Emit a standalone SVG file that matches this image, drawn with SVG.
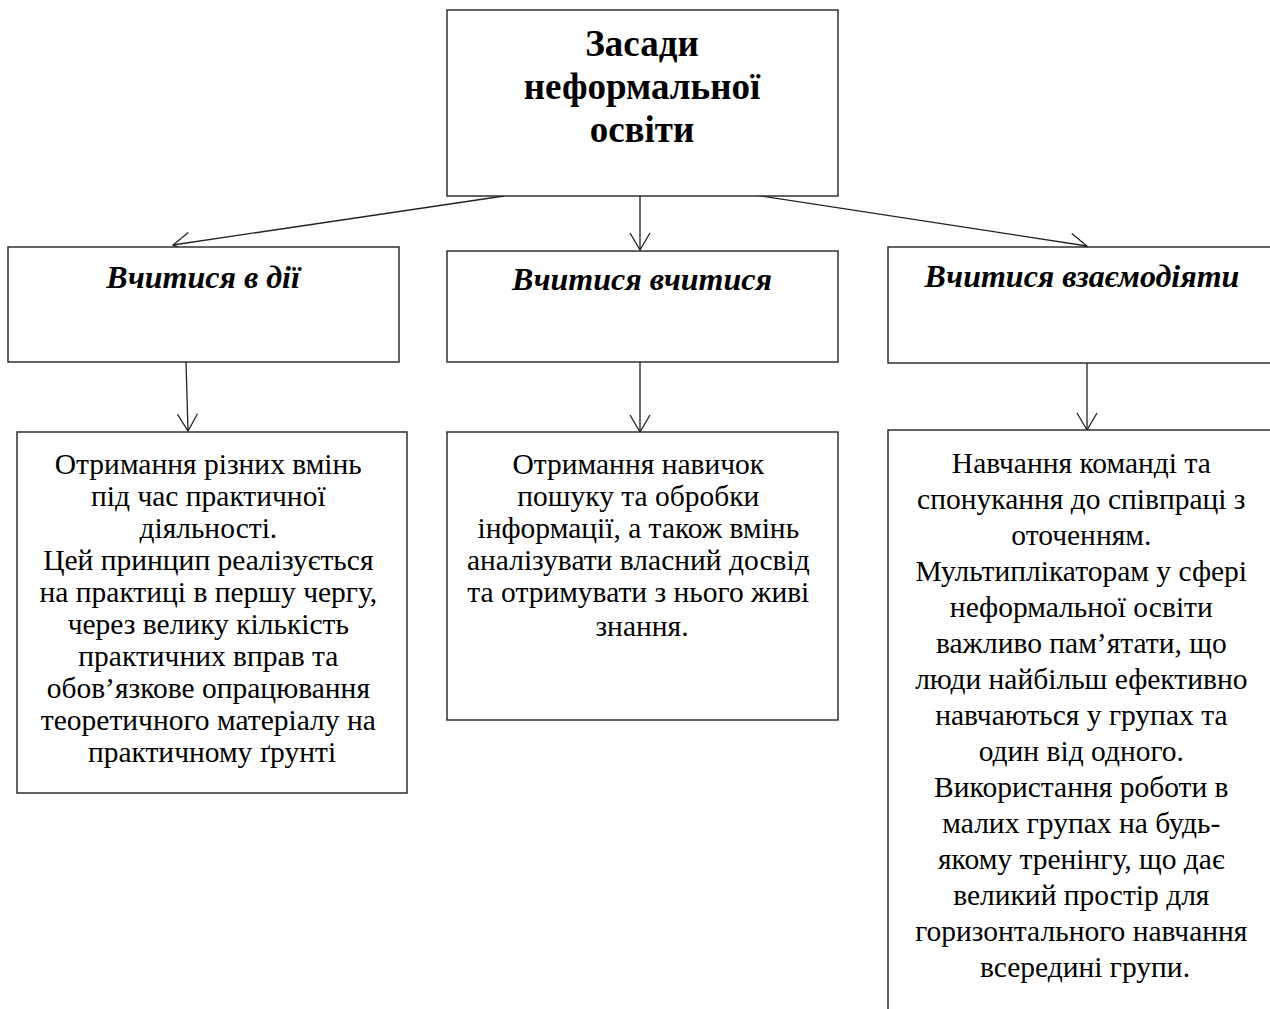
<svg xmlns="http://www.w3.org/2000/svg" width="1270" height="1009" viewBox="0 0 1270 1009">
<style>
.box{fill:#fff;stroke:#222;stroke-width:1.4}
.title{font-family:"Liberation Serif","Times New Roman",serif;font-weight:bold;font-size:37px;fill:#000;text-anchor:middle}
.head{font-family:"Liberation Serif","Times New Roman",serif;font-weight:bold;font-style:italic;font-size:32px;fill:#000;text-anchor:middle}
.body{font-family:"Liberation Serif","Times New Roman",serif;font-size:29.5px;fill:#000;text-anchor:middle}
.conn{stroke:#222;stroke-width:1.3;fill:none;marker-end:url(#arr)}
</style>
<defs>
<marker id="arr" markerUnits="userSpaceOnUse" markerWidth="22" markerHeight="24" refX="18" refY="11" orient="auto">
<path d="M1,1 L18,11 L1,21" fill="none" stroke="#222" stroke-width="1.3"/>
</marker>
</defs>
<rect width="1270" height="1009" fill="#fff"/>
<g id="connectors">
<line class="conn" x1="504" y1="196" x2="173" y2="245"/>
<line class="conn" x1="640" y1="196" x2="640" y2="250"/>
<line class="conn" x1="755" y1="195" x2="1087" y2="246"/>
<line class="conn" x1="186" y1="362" x2="188" y2="431"/>
<line class="conn" x1="640" y1="362" x2="640" y2="432"/>
<line class="conn" x1="1087" y1="363" x2="1087" y2="430"/>
</g>
<g id="root">
<rect class="box" x="447" y="10" width="391" height="186"/>
<text class="title" x="642" y="56">Засади</text>
<text class="title" x="642" y="99">неформальної</text>
<text class="title" x="642" y="142">освіти</text>
</g>
<g id="learn-doing">
<rect class="box" x="8" y="247" width="391" height="115"/>
<text class="head" x="203" y="288">Вчитися в дії</text>
</g>
<g id="learn-learning">
<rect class="box" x="447" y="251" width="391" height="111"/>
<text class="head" x="642" y="290">Вчитися вчитися</text>
</g>
<g id="learn-interact">
<rect class="box" x="888" y="247" width="400" height="116"/>
<text class="head" x="1082" y="287">Вчитися взаємодіяти</text>
</g>
<g id="desc-doing">
<rect class="box" x="17" y="432" width="390" height="361"/>
<text class="body" x="212">
<tspan x="212" y="474">Отримання різних вмінь</tspan>
<tspan x="212" y="506">під час практичної</tspan>
<tspan x="212" y="538">діяльності.</tspan>
<tspan x="212" y="570">Цей принцип реалізується</tspan>
<tspan x="212" y="602">на практиці в першу чергу,</tspan>
<tspan x="212" y="634">через велику кількість</tspan>
<tspan x="212" y="666">практичних вправ та</tspan>
<tspan x="212" y="698">обов’язкове опрацювання</tspan>
<tspan x="212" y="730">теоретичного матеріалу на</tspan>
<tspan x="212" y="762">практичному ґрунті</tspan>
</text>
</g>
<g id="desc-learning">
<rect class="box" x="447" y="432" width="391" height="288"/>
<text class="body" x="642">
<tspan x="642" y="474">Отримання навичок</tspan>
<tspan x="642" y="506">пошуку та обробки</tspan>
<tspan x="642" y="538">інформації, а також вмінь</tspan>
<tspan x="642" y="570">аналізувати власний досвід</tspan>
<tspan x="642" y="602">та отримувати з нього живі</tspan>
<tspan x="642" y="636">знання.</tspan>
</text>
</g>
<g id="desc-interact">
<rect class="box" x="888" y="430" width="400" height="700"/>
<text class="body" x="1085">
<tspan x="1085" y="473">Навчання  команді та</tspan>
<tspan x="1085" y="509">спонукання до співпраці з</tspan>
<tspan x="1085" y="545">оточенням.</tspan>
<tspan x="1085" y="581">Мультиплікаторам у сфері</tspan>
<tspan x="1085" y="617">неформальної освіти</tspan>
<tspan x="1085" y="653">важливо пам’ятати, що</tspan>
<tspan x="1085" y="689">люди найбільш ефективно</tspan>
<tspan x="1085" y="725">навчаються у групах та</tspan>
<tspan x="1085" y="761">один від одного.</tspan>
<tspan x="1085" y="797">Використання роботи в</tspan>
<tspan x="1085" y="833">малих групах на будь-</tspan>
<tspan x="1085" y="869">якому тренінгу, що дає</tspan>
<tspan x="1085" y="905">великий простір для</tspan>
<tspan x="1085" y="941">горизонтального навчання</tspan>
<tspan x="1085" y="977">всередині групи.</tspan>
</text>
</g>
</svg>
